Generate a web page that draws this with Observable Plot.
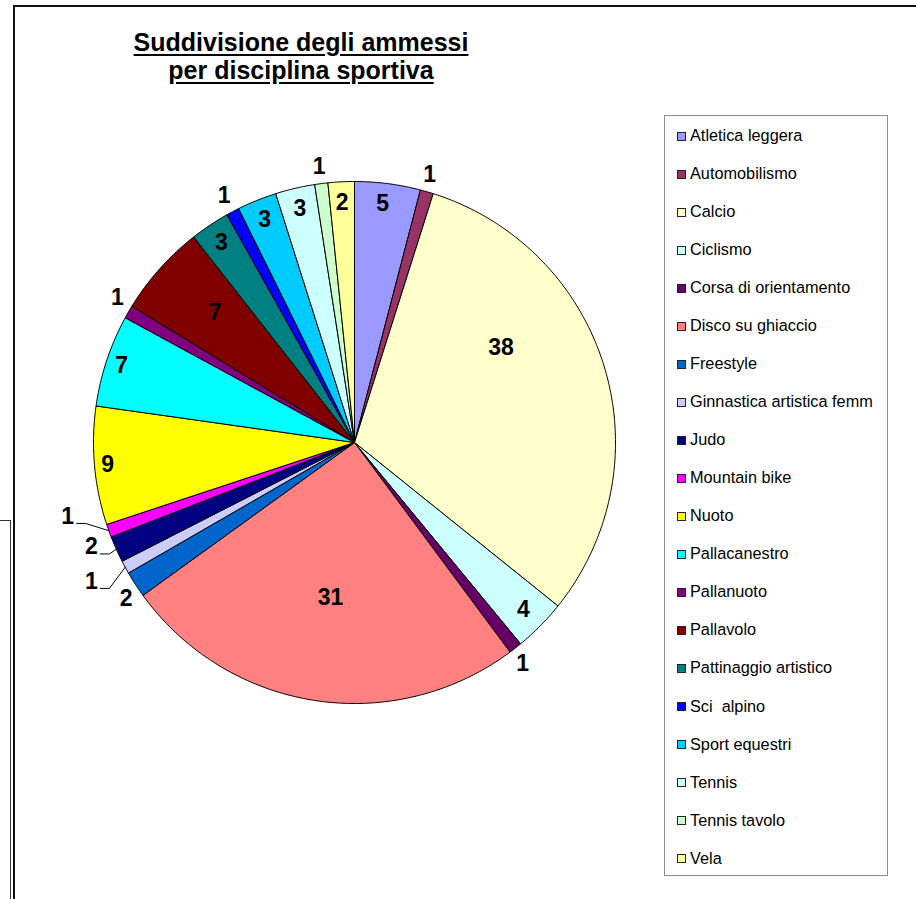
<!DOCTYPE html>
<html>
<head>
<meta charset="utf-8">
<script src="https://cdn.jsdelivr.net/npm/d3@7"></script>
<script src="https://cdn.jsdelivr.net/npm/@observablehq/plot@0.6"></script>
<style>
  html, body { margin: 0; padding: 0; background: #fff; }
  #page { position: relative; width: 916px; height: 899px; overflow: hidden; font-family: "Liberation Sans", Arial, sans-serif; }
  .abs { position: absolute; }
  #title { left: 100px; width: 402px; top: 28px; text-align: center; font-weight: bold; font-size: 25px; line-height: 28px; text-decoration: underline; text-underline-offset: 3px; color: #000; }
  #legend { left: 664px; top: 115px; width: 224px; height: 761px; border: 1px solid #8a8a8a; box-sizing: border-box; }
  .lgtext { position: absolute; left: 690px; font-size: 16.3px; line-height: 16px; height: 16px; white-space: pre; color: #000; }
  .lgsw { position: absolute; left: 677px; width: 9px; height: 9px; box-sizing: border-box; border: 1px solid #222; }
  #chart { position: absolute; left: 0; top: 0; }
</style>
</head>
<body>
<div id="page">
  <div class="abs" style="left:13px;top:5px;width:903px;height:2px;background:#111"></div>
  <div class="abs" style="left:13px;top:5px;width:2px;height:894px;background:#111"></div>
  <div class="abs" style="left:0;top:520px;width:11px;height:1px;background:#333"></div>
  <div class="abs" style="left:10px;top:520px;width:1px;height:379px;background:#333"></div>
  <div id="title" class="abs">Suddivisione degli ammessi<br>per disciplina sportiva</div>
  <div id="legend" class="abs"></div>
  <div id="chart"></div>
</div>
<script>
// ---- data ----
const categories = [
  "Atletica leggera", "Automobilismo", "Calcio", "Ciclismo", "Corsa di orientamento",
  "Disco su ghiaccio", "Freestyle", "Ginnastica artistica femm", "Judo", "Mountain bike",
  "Nuoto", "Pallacanestro", "Pallanuoto", "Pallavolo", "Pattinaggio artistico",
  "Sci  alpino", "Sport equestri", "Tennis", "Tennis tavolo", "Vela"
];
const values = [5, 1, 38, 4, 1, 31, 2, 1, 2, 1, 9, 7, 1, 7, 3, 1, 3, 3, 1, 2];
const colors = [
  "#9999FF", "#993366", "#FFFFCC", "#CCFFFF", "#660066",
  "#FF8080", "#0066CC", "#CCCCFF", "#000080", "#FF00FF",
  "#FFFF00", "#00FFFF", "#800080", "#800000", "#008080",
  "#0000FF", "#00CCFF", "#CCFFFF", "#CCFFCC", "#FFFF99"
];
const leaderCategories = ["Ginnastica artistica femm", "Judo", "Mountain bike"];

// ---- layout (label placement, as fractions of radius / degree shifts) ----
const labelRadius = [0.92, 1.065, 0.67, 0.91, 1.065, 0.6, 1.06, 1.14, 1.085, 1.135, 0.95, 0.94, 1.065, 0.73, 0.92, 1.07, 0.92, 0.92, 1.065, 0.92];
const labelShift  = [-0.6, -0.4, -16.2, 0, 0.8, 0, -1.4, 0.7, 2.5, 5.3, 0, 0, 1.5, 1.3, 0, 0, 0, 0, 0, 0];
const W = 916, H = 899, cx = 354, cy = 442, R = 261;

// ---- geometry from data ----
const total = d3.sum(values);
const slicePts = [];
const labels = [];
const leaders = [];
let cum = 0;
categories.forEach((cat, i) => {
  const a0 = cum / total * 2 * Math.PI;
  const a1 = (cum + values[i]) / total * 2 * Math.PI;
  cum += values[i];
  const n = Math.max(2, Math.ceil((a1 - a0) * 180 / Math.PI * 2));
  slicePts.push({cat, x: 0, y: 0});
  for (let k = 0; k <= n; k++) {
    const a = a0 + (a1 - a0) * k / n;
    slicePts.push({cat, x: Math.sin(a), y: -Math.cos(a)});
  }
  slicePts.push({cat, x: 0, y: 0});
  const mid = (a0 + a1) / 2;
  const la = mid + labelShift[i] * Math.PI / 180;
  const lx = labelRadius[i] * Math.sin(la), ly = -labelRadius[i] * Math.cos(la);
  labels.push({cat, value: values[i], x: lx, y: ly});
  if (leaderCategories.includes(cat)) {
    const sx = lx + 9 / R, sy = ly + 7 / R;
    leaders.push({cat, x: sx, y: sy});
    leaders.push({cat, x: sx + 9 / R, y: sy});
    leaders.push({cat, x: Math.sin(mid), y: -Math.cos(mid)});
  }
});

const chart = Plot.plot({
  width: W, height: H, margin: 0,
  style: {background: "transparent", overflow: "visible"},
  x: {domain: [-cx / R, (W - cx) / R], range: [0, W], axis: null},
  y: {domain: [-cy / R, (H - cy) / R], range: [0, H], axis: null},
  color: {type: "ordinal", domain: categories, range: colors},
  marks: [
    Plot.line(slicePts, {x: "x", y: "y", z: "cat", fill: "cat", stroke: "#000", strokeWidth: 1, strokeLinejoin: "round", curve: "linear"}),
    Plot.line(leaders, {x: "x", y: "y", z: "cat", stroke: "#000", strokeWidth: 1, curve: "linear"}),
    Plot.text(labels, {x: "x", y: "y", text: d => String(d.value), fill: "#000", fontSize: 23, fontWeight: "bold", fontFamily: "Liberation Sans, Arial, sans-serif"})
  ]
});
document.getElementById("chart").appendChild(chart);

// ---- legend (HTML) ----
const page = document.getElementById("page");
categories.forEach((cat, i) => {
  const baseline = 140.7 + 38.02 * i;
  const t = document.createElement("div");
  t.className = "lgtext";
  t.style.top = (baseline - 13.5) + "px";
  t.textContent = cat;
  page.appendChild(t);
  const s = document.createElement("div");
  s.className = "lgsw";
  s.style.top = (baseline - 9) + "px";
  s.style.background = colors[i];
  page.appendChild(s);
});
</script>
</body>
</html>
